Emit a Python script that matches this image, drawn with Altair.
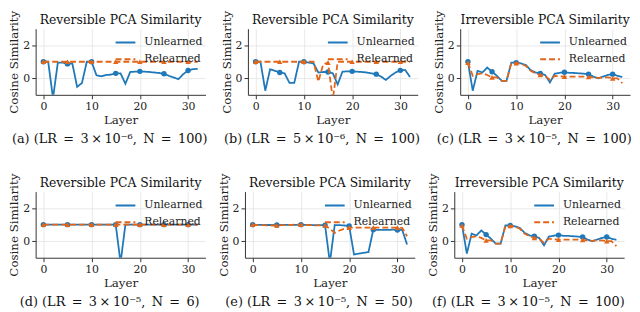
import altair as alt
import pandas as pd

layers = list(range(33))
marker_layers = [0, 5, 10, 15, 20, 25, 30]

titles = ["Reversible PCA Similarity", "Reversible PCA Similarity", "Irreversible PCA Similarity",
          "Reversible PCA Similarity", "Reversible PCA Similarity", "Irreversible PCA Similarity"]
SP = "\u2002"
TH = "\u2009"
captions = [f"(a) (LR{SP}={SP}3{TH}\u00d7{TH}10\u207b\u2076,{SP}N{SP}={SP}100)",
            f"(b) (LR{SP}={SP}5{TH}\u00d7{TH}10\u207b\u2076,{SP}N{SP}={SP}100)",
            f"(c) (LR{SP}={SP}3{TH}\u00d7{TH}10\u207b\u2075,{SP}N{SP}={SP}100)",
            f"(d) (LR{SP}={SP}3{TH}\u00d7{TH}10\u207b\u2075,{SP}N{SP}={SP}6)",
            f"(e) (LR{SP}={SP}3{TH}\u00d7{TH}10\u207b\u2075,{SP}N{SP}={SP}50)",
            f"(f) (LR{SP}={SP}3{TH}\u00d7{TH}10\u207b\u2075,{SP}N{SP}={SP}100)"]

unl_a = [1.0, 1.0, -1.2, 0.95, 0.95, 0.87, 0.9, -0.52, -0.28, 1.0, 1.0, 0.18, 0.12, 0.2, 0.22, 0.3,
         0.3, -0.33, 0.38, 0.4, 0.42, 0.4, 0.38, 0.35, 0.32, 0.27, 0.15, 0.05, -0.05, 0.25, 0.47, 0.55, 0.57]
rel_a = [1.0] * 33

unl_b = [1.0, 1.0, -0.75, 0.55, 0.45, 0.35, 0.3, -0.27, -0.28, 1.0, 1.0, 0.95, 0.9, 0.35, 0.38, 0.38,
         0.3, -0.37, 0.4, 0.42, 0.42, 0.4, 0.38, 0.35, 0.3, 0.25, 0.1, -0.1, 0.15, 0.35, 0.48, 0.5, 0.08]
rel_b = [1.0, 1.0, 1.0, 1.0, 1.0, 1.0, 1.0, 1.0, 1.0, 1.0, 1.0, 1.0, 1.0, -0.2, 0.85, 0.95,
         -1.3, 1.0, 1.0, 1.0, 1.0, 1.0, 1.0, 1.0, 1.0, 1.0, 1.0, 1.0, 1.0, 1.0, 1.0, 1.0, 1.0]

unl_c = [1.0, -0.75, 0.45, 0.35, 0.65, 0.4, 0.15, -0.15, -0.15, 0.95, 0.95, 0.9, 0.8, 0.5, 0.35, 0.3,
         0.2, -0.25, 0.28, 0.33, 0.37, 0.33, 0.32, 0.3, 0.28, 0.25, 0.1, 0.0, 0.1, 0.2, 0.25, 0.15, 0.08]
rel_c = [0.95, 0.15, 0.25, 0.3, 0.2, 0.05, 0.05, -0.15, -0.15, 0.92, 0.92, 0.88, 0.75, 0.45, 0.3, 0.2,
         0.15, -0.1, 0.15, 0.12, 0.1, 0.1, 0.1, 0.1, 0.1, 0.08, 0.05, 0.02, 0.05, 0.05, 0.0, 0.0, -0.3]

unl_d = [1.0] * 16 + [-1.3] + [1.0] * 16
rel_d = [1.0] * 33

unl_e = [1.0, 0.99, 0.99, 0.98, 0.98, 0.98, 0.98, 0.99, 0.99, 0.99, 1.0, 0.99, 0.98, 0.97, 0.97, 0.97,
         -1.3, 0.98, 0.97, 0.95, 0.92, -0.8, -0.75, -0.7, -0.66, 0.7, 0.68, 0.68, 0.68, 0.7, 0.68, 0.68, -0.2]
rel_e = [1.0, 0.98, 0.97, 0.96, 0.95, 0.95, 0.97, 0.98, 0.99, 1.0, 1.0, 0.98, 0.97, 0.96, 0.96, 0.95,
         0.75, 0.5, 0.65, 0.75, 0.82, 0.82, 0.82, 0.82, 0.82, 0.82, 0.82, 0.82, 0.82, 0.82, 0.82, 0.8, 0.3]

unl_f = unl_c
rel_f = rel_c

series_sets = [(unl_a, rel_a), (unl_b, rel_b), (unl_c, rel_c), (unl_d, rel_d), (unl_e, rel_e), (unl_f, rel_f)]

BLUE = "#1f78b9"
ORANGE = "#e2661a"
FONT = "DejaVu Serif"
W, H = 172, 67


def panel(idx):
    unl, rel = series_sets[idx]
    df = pd.DataFrame({
        "layer": layers * 2,
        "value": unl + rel,
        "series": ["Unlearned"] * 33 + ["Relearned"] * 33,
    })
    x = alt.X("layer:Q", scale=alt.Scale(domain=[-1.6, 33.6], nice=False, zero=False),
              axis=alt.Axis(values=[0, 10, 20, 30], title="Layer"))
    y = alt.Y("value:Q", scale=alt.Scale(domain=[-1, 3], nice=False, zero=False),
              axis=alt.Axis(values=[0, 2], title="Cosine Similarity"))
    leg = alt.Legend(title=None, orient="top-right", offset=1,
                     symbolType="stroke", symbolSize=400, symbolStrokeWidth=2,
                     labelFont=FONT, labelFontSize=11, labelColor="#222",
                     rowPadding=1, padding=2, labelOffset=8)
    color = alt.Color("series:N",
                      scale=alt.Scale(domain=["Unlearned", "Relearned"], range=[BLUE, ORANGE]),
                      legend=leg)
    dash = alt.StrokeDash("series:N",
                          scale=alt.Scale(domain=["Unlearned", "Relearned"], range=[[1, 0], [6, 3]]),
                          legend=leg)
    base = alt.Chart(df)
    l_unl = base.transform_filter(alt.datum.series == "Unlearned").mark_line(
        clip=True, strokeWidth=1.8).encode(x=x, y=y, color=color, strokeDash=dash)
    l_rel = base.transform_filter(alt.datum.series == "Relearned").mark_line(
        clip=True, strokeWidth=1.8).encode(x=x, y=y, color=color, strokeDash=dash)
    mdf = df[df["layer"].isin(marker_layers)]
    p_unl = alt.Chart(mdf[mdf["series"] == "Unlearned"]).mark_point(
        filled=True, size=30, opacity=1, clip=True).encode(
        x="layer:Q", y="value:Q", color=alt.value(BLUE), shape=alt.value("circle"))
    p_rel = alt.Chart(mdf[mdf["series"] == "Relearned"]).mark_point(
        filled=True, size=30, opacity=1, clip=True).encode(
        x="layer:Q", y="value:Q", color=alt.value(ORANGE), shape=alt.value("triangle-up"))
    cap = alt.Chart(pd.DataFrame({"t": [captions[idx]]})).mark_text(
        font=FONT, fontSize=13, color="#111", baseline="middle", align="center").encode(
        text="t:N", x=alt.value(W / 2 - 11), y=alt.value(H + 45))
    ttl = alt.Chart(pd.DataFrame({"t": [titles[idx]]})).mark_text(
        font=FONT, fontSize=12.5, color="#111", baseline="middle", align="center").encode(
        text="t:N", x=alt.value(W / 2), y=alt.value(-9))
    return alt.layer(l_unl, p_unl, l_rel, p_rel, cap, ttl).properties(width=W, height=H)


def row(i0):
    return alt.hconcat(panel(i0), panel(i0 + 1), panel(i0 + 2), spacing=12).resolve_scale(
        color="independent", strokeDash="independent").resolve_legend(
        color="independent", strokeDash="independent")


chart = alt.vconcat(row(0), row(3), spacing=27).resolve_scale(
    color="independent", strokeDash="independent").resolve_legend(
    color="independent", strokeDash="independent").properties(padding=0).configure_view(
    stroke=None).configure_axis(
    labelFont=FONT, titleFont=FONT, labelFontSize=11, titleFontSize=12, titleFontWeight="normal",
    labelColor="#222", titleColor="#222", domainColor="#333", tickColor="#333", tickSize=4,
    gridColor="#e3e3e3", gridWidth=0.8, labelPadding=2, titlePadding=3,
).configure_axisY(titlePadding=2)

chart.save("out.html", embed_options={"renderer": "svg", "actions": False})
